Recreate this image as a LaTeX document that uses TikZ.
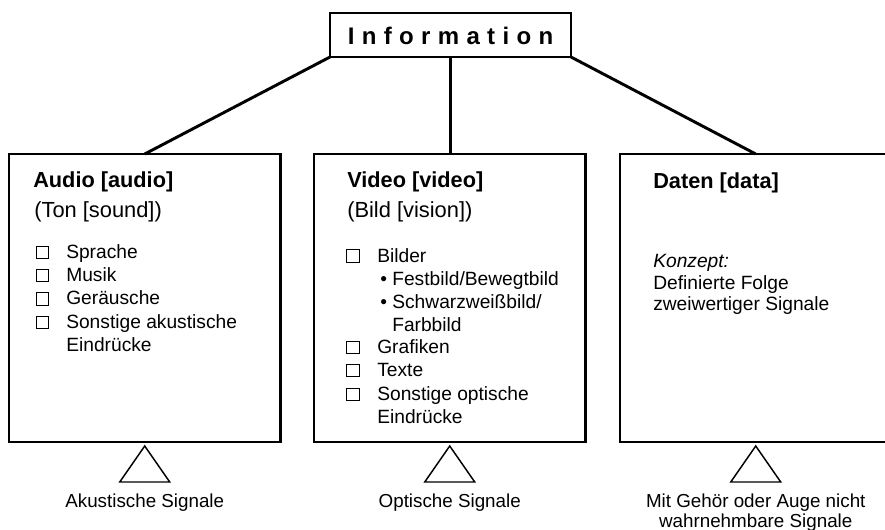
\documentclass[tikz,border=0pt]{standalone}
\usepackage{fontspec}
\setmainfont{Liberation Sans}
\newcommand{\lsp}{\kern5.5pt}
\begin{document}
\begin{tikzpicture}[x=0.75pt,y=-0.75pt,
  box/.style={draw, line width=2.2pt, inner sep=0pt, outer sep=0pt, anchor=north west,
              minimum width=203.6pt, minimum height=216pt},
  infobox/.style={draw, line width=2.2pt, inner sep=0pt, outer sep=0pt,
              minimum width=180.75pt, minimum height=33pt},
  conn/.style={line width=2.2pt},
  tri/.style={line width=1.1pt, line join=miter},
  head/.style={anchor=base west, inner sep=0pt, font=\fontsize{16.3}{19}\selectfont\bfseries},
  sub/.style={anchor=base west, inner sep=0pt, font=\fontsize{16.4}{19}\selectfont},
  item/.style={anchor=base west, inner sep=0pt, font=\fontsize{14.4}{17}\selectfont},
  lab/.style={anchor=base, inner sep=0pt, font=\fontsize{14.1}{17}\selectfont},
  cbox/.style={draw, line width=0.9pt, inner sep=0pt, outer sep=0pt, minimum size=9.3pt}
]
\useasboundingbox (0,0) rectangle (885,529);
\clip (0,0) rectangle (885,529);

% top node
\node[infobox] (info) at (450.5,35) {};
\node[anchor=base, inner sep=0pt, font=\fontsize{18}{21}\selectfont\bfseries] (infotext) at (450.5,44)
  {I\lsp n\lsp f\lsp o\lsp r\lsp m\lsp a\lsp t\lsp i\lsp o\lsp n};

% three boxes
\node[box] (audio) at (9,154) {};
\node[box] (video) at (314,154) {};
\node[box] (daten) at (620,154) {};

% connectors
\draw[conn] (info.south west) -- (audio.north);
\draw[conn] (info.south) -- (info.south |- video.north);
\draw[conn] (info.south east) -- (daten.north);

% Audio content
\node[head] (ah) at (33,187) {Audio [audio]};
\node[sub] (as) at (34,217) {(Ton [sound])};
\node[cbox] (ac1) at (42.5,252.5) {};
\node[item] (ai1) at (66,258) {Sprache};
\node[cbox] (ac2) at (42.5,275.5) {};
\node[item] (ai2) at (66,281) {Musik};
\node[cbox] (ac3) at (42.5,299) {};
\node[item] (ai3) at (66,304.5) {Geräusche};
\node[cbox] (ac4) at (42.5,322.5) {};
\node[item] (ai4) at (66,328) {Sonstige akustische};
\node[item] (ai5) at (66,351) {Eindrücke};

% Video content
\node[head] (vh) at (347,187) {Video [video]};
\node[sub] (vs) at (347,217) {(Bild [vision])};
\node[cbox] (vc1) at (353,256) {};
\node[item] (vi1) at (377,262) {Bilder};
\node[item] (vi2) at (380,285) {• Festbild/Bewegtbild};
\node[item] (vi3) at (380,308) {• Schwarzweißbild/};
\node[item] (vi4) at (392,331) {Farbbild};
\node[cbox] (vc2) at (353,347.5) {};
\node[item] (vi5) at (377,353) {Grafiken};
\node[cbox] (vc3) at (353,370.5) {};
\node[item] (vi6) at (377,376) {Texte};
\node[cbox] (vc4) at (353,394.5) {};
\node[item] (vi7) at (377,400) {Sonstige optische};
\node[item] (vi8) at (377,423) {Eindrücke};

% Daten content
\node[head] (dh) at (653,188) {Daten [data]};
\node[item] (di1) at (653,267) {\itshape Konzept:};
\node[item] (di2) at (653,289) {Definierte Folge};
\node[item] (di3) at (653,310.5) {zweiwertiger Signale};

% triangles
\draw[tri] (audio.south) ++(0,4) -- ++(-25,36) -- ++(50,0) -- cycle;
\draw[tri] (video.south) ++(0,4) -- ++(-25,36) -- ++(50,0) -- cycle;
\draw[tri] (daten.south) ++(0,4) -- ++(-25,36) -- ++(50,0) -- cycle;

% labels
\node[lab] (la) at (audio.south |- 0,507) {Akustische Signale};
\node[lab] (lv) at (video.south |- 0,507) {Optische Signale};
\node[lab] (ld1) at (daten.south |- 0,507) {Mit Gehör oder Auge nicht};
\node[lab] (ld2) at (daten.south |- 0,527) {wahrnehmbare Signale};
\end{tikzpicture}
\end{document}
